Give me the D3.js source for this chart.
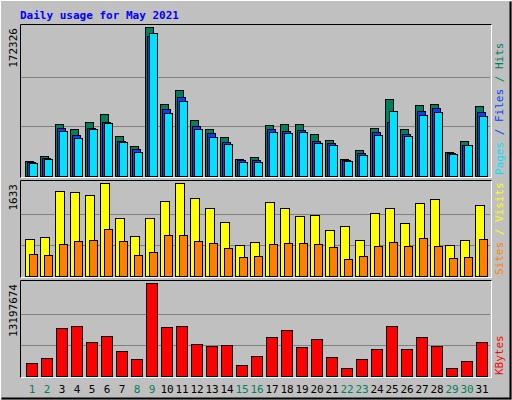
<!DOCTYPE html>
<html><head><meta charset="utf-8">
<script src="https://cdn.jsdelivr.net/npm/d3@7"></script>
<style>body{margin:0;background:#fff}text{font-family:"DejaVu Sans Mono",monospace}</style>
</head><body><svg id="chart" width="512" height="400"></svg>
<script>
const days = d3.range(1, 32);
const weekend = [1, 2, 8, 9, 15, 16, 22, 23, 29, 30];
const hits = [17600, 23400, 59800, 53900, 62100, 71500, 45700, 35200, 172326, 83200, 98900, 64500, 53900, 44600, 19900, 22300, 58600, 59800, 59800, 48100, 42200, 19900, 30500, 55100, 89100, 53900, 82100, 83200, 28100, 41000, 80900];
const files = [16400, 21100, 55100, 46900, 55100, 62100, 41000, 31700, 161800, 77400, 91400, 57400, 49200, 39900, 18800, 18800, 53900, 51600, 52800, 41000, 38700, 18800, 27000, 50400, 62100, 48100, 75000, 78600, 27000, 36300, 73900];
const pages = [15200, 19900, 51600, 43400, 53900, 61000, 39900, 28100, 165300, 72700, 86800, 53900, 44600, 37500, 16400, 16400, 50400, 49200, 50400, 38700, 36300, 17600, 24600, 46900, 75000, 45700, 70300, 73900, 25800, 36300, 69200];
const visits = [657, 692, 1491, 1473, 1420, 1633, 1012, 710, 1012, 1314, 1633, 1367, 1189, 941, 550, 604, 1296, 1189, 1047, 1065, 799, 870, 639, 1101, 1189, 923, 1278, 1349, 550, 639, 1243];
const sites = [391, 373, 568, 621, 639, 834, 621, 373, 426, 728, 728, 621, 586, 497, 337, 355, 568, 586, 586, 568, 515, 302, 355, 533, 604, 533, 675, 533, 320, 337, 657];
const kbytes = [1885000, 2610500, 6816400, 7106400, 4786000, 5656100, 3480700, 2465500, 13197674, 6961400, 7106400, 4495900, 4205800, 4350900, 1595300, 2900600, 5511100, 6526300, 4060800, 5221000, 2755600, 1160200, 2465500, 3770800, 7106400, 3770800, 5511100, 4205800, 1160200, 2175400, 4786000];

const svg = d3.select('#chart');
const x = d3.scaleLinear([1, 31], [25, 475]);

/* background and 3D frame */
svg.append('rect').attr('width', 512).attr('height', 400).attr('fill', '#c0c0c0');
svg.append('path').attr('d', 'M0.5,399.5V0.5H511.5').attr('stroke', '#fff').attr('fill', 'none');
svg.append('path').attr('d', 'M1.5,398.5H510.5V1.5').attr('stroke', '#000').attr('fill', 'none').attr('stroke-width', 2);
svg.append('text').attr('x', 20).attr('y', 19).attr('fill', '#0000ff')
  .attr('font-size', 11).attr('font-weight', 'bold').text('Daily usage for May 2021');

const panels = [
  { top: 24, bottom: 177, max: d3.max(hits), label: d3.max(hits),
    series: [{ d: hits, dx: 0, w: 8, c: '#00805c' }, { d: files, dx: 2, w: 8, c: '#0040ff' }, { d: pages, dx: 4, w: 8, c: '#00e0ff' }],
    legend: [['Pages', '#00e0ff'], [' / ', '#0040ff'], ['Files', '#0040ff'], [' / ', '#00805c'], ['Hits', '#00805c']] },
  { top: 180, bottom: 277, max: d3.max(visits), label: d3.max(visits),
    series: [{ d: visits, dx: 0, w: 9, c: '#ffff00' }, { d: sites, dx: 4, w: 8, c: '#ff8000' }],
    legend: [['Sites', '#ff8000'], [' / ', '#ffff00'], ['Visits', '#ffff00']] },
  { top: 280, bottom: 377, max: d3.max(kbytes), label: d3.max(kbytes),
    series: [{ d: kbytes, dx: 1, w: 11, c: '#ff0000' }],
    legend: [['KBytes', '#ff0000']] }
];

panels.forEach(function (p) {
  const y = d3.scaleLinear([0, p.max], [p.bottom - 1, p.top + 3]);
  svg.append('rect').attr('x', 20.5).attr('y', p.top + 0.5).attr('width', 471).attr('height', p.bottom - p.top)
    .attr('fill', '#c0c0c0').attr('stroke', '#fff');
  svg.append('path').attr('d', `M20.5,${p.bottom + 0.5}V${p.top + 0.5}H491.5`).attr('stroke', '#000').attr('fill', 'none');
  [1 / 3, 2 / 3].forEach(function (f) {
    svg.append('line').attr('x1', 21).attr('x2', 490)
      .attr('y1', Math.round(y(p.max * f)) + 0.5).attr('y2', Math.round(y(p.max * f)) + 0.5)
      .attr('stroke', '#808080');
  });
  p.series.forEach(function (s) {
    svg.append('g').selectAll('rect').data(s.d).enter().append('rect')
      .attr('x', (d, i) => x(days[i]) + s.dx + 0.5)
      .attr('y', d => Math.round(y(d)) + 0.5)
      .attr('width', s.w)
      .attr('height', d => p.bottom - 1 - Math.round(y(d)))
      .attr('fill', s.c).attr('stroke', '#000');
  });
  svg.append('text').attr('transform', `translate(17,${p.top + 4}) rotate(-90)`)
    .attr('text-anchor', 'end').attr('font-size', 11).attr('fill', '#000').text(p.label);
  const t = svg.append('text').attr('transform', `translate(503,${p.bottom - 2}) rotate(-90)`)
    .attr('font-size', 11);
  p.legend.forEach(function (l) { t.append('tspan').attr('fill', l[1]).text(l[0]); });
});

svg.append('g').selectAll('text').data(days).enter().append('text')
  .attr('x', d => x(d) + 7).attr('y', 393).attr('text-anchor', 'middle').attr('font-size', 11)
  .attr('fill', d => weekend.includes(d) ? '#00805c' : '#000').text(d => d);
</script></body></html>
